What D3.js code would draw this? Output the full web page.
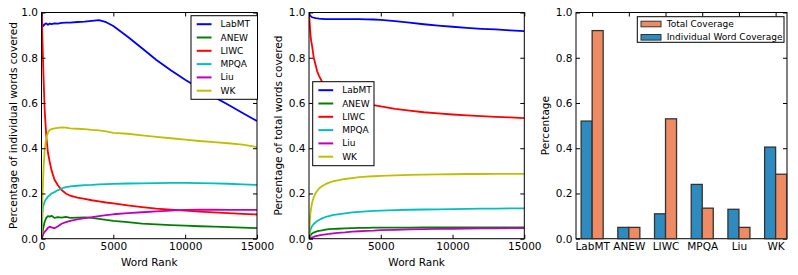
<!DOCTYPE html>
<html>
<head>
<meta charset="utf-8">
<script src="https://cdn.jsdelivr.net/npm/d3@7"></script>
<style>
  body { margin: 0; background: #fff; }
  svg text { font-family: 'DejaVu Sans', sans-serif; fill: #000; }
</style>
</head>
<body>
<svg id="chart" width="798" height="275"></svg>
<script>
/* global d3 */

// word rank sample points (shared by both line panels)
const ranks = [0, 35, 70, 105, 150, 220, 330, 450, 570, 700, 900, 1150, 1400, 1700, 2000, 2500,
  3000, 3500, 4000, 4500, 5000, 6000, 7000, 8000, 9000, 10000, 11000, 12000, 13000, 14000, 15000]

// percentage of individual words covered
const indivLabMT = [1.0, 0.96, 0.945, 0.94, 0.942, 0.948, 0.952, 0.946, 0.951, 0.949, 0.952, 0.951, 0.954, 0.955, 0.955, 0.958,
  0.96, 0.963, 0.966, 0.957, 0.94, 0.893, 0.842, 0.79, 0.745, 0.703, 0.664, 0.627, 0.592, 0.556, 0.52]
const indivANEW = [0, 0.01, 0.025, 0.04, 0.055, 0.075, 0.092, 0.1, 0.098, 0.101, 0.092, 0.095, 0.093, 0.096, 0.092, 0.093,
  0.094, 0.092, 0.088, 0.083, 0.079, 0.073, 0.067, 0.063, 0.06, 0.058, 0.055, 0.053, 0.051, 0.049, 0.047]
const indivLIWC = [1.0, 0.95, 0.87, 0.79, 0.7, 0.57, 0.455, 0.38, 0.34, 0.302, 0.262, 0.235, 0.215, 0.2, 0.19, 0.182,
  0.176, 0.17, 0.165, 0.16, 0.156, 0.147, 0.14, 0.133, 0.128, 0.124, 0.12, 0.116, 0.113, 0.11, 0.107]
const indivMPQA = [0, 0.068, 0.11, 0.14, 0.15, 0.164, 0.176, 0.186, 0.192, 0.2, 0.206, 0.215, 0.222, 0.228, 0.231, 0.234,
  0.237, 0.238, 0.24, 0.241, 0.242, 0.244, 0.245, 0.246, 0.247, 0.247, 0.246, 0.245, 0.243, 0.24, 0.238]
const indivLiu = [0, 0.003, 0.01, 0.017, 0.024, 0.03, 0.038, 0.048, 0.053, 0.05, 0.046, 0.055, 0.066, 0.073, 0.079, 0.085,
  0.091, 0.095, 0.1, 0.104, 0.108, 0.113, 0.117, 0.121, 0.124, 0.127, 0.128, 0.128, 0.127, 0.127, 0.127]
const indivWK = [0, 0.1, 0.186, 0.25, 0.319, 0.39, 0.445, 0.47, 0.481, 0.484, 0.488, 0.49, 0.492, 0.491, 0.488, 0.486,
  0.484, 0.481, 0.479, 0.474, 0.468, 0.464, 0.457, 0.45, 0.444, 0.438, 0.432, 0.427, 0.422, 0.416, 0.405]

// percentage of total words covered
const totalLabMT = [1.0, 0.993, 0.988, 0.985, 0.982, 0.979, 0.977, 0.975, 0.974, 0.973, 0.972, 0.971, 0.971, 0.971, 0.971, 0.971,
  0.971, 0.971, 0.97, 0.969, 0.967, 0.962, 0.955, 0.948, 0.942, 0.937, 0.932, 0.928, 0.925, 0.921, 0.918]
const totalANEW = [0, 0.006, 0.011, 0.015, 0.019, 0.023, 0.027, 0.03, 0.033, 0.035, 0.037, 0.04, 0.042, 0.043, 0.044, 0.046,
  0.047, 0.048, 0.048, 0.049, 0.049, 0.049, 0.049, 0.05, 0.05, 0.05, 0.05, 0.05, 0.05, 0.05, 0.05]
const totalLIWC = [1.0, 0.965, 0.93, 0.9, 0.875, 0.85, 0.8, 0.77, 0.74, 0.72, 0.695, 0.673, 0.66, 0.648, 0.638, 0.625,
  0.615, 0.606, 0.598, 0.591, 0.585, 0.574, 0.566, 0.559, 0.554, 0.549, 0.545, 0.542, 0.539, 0.536, 0.533]
const totalMPQA = [0, 0.015, 0.03, 0.04, 0.048, 0.056, 0.065, 0.072, 0.078, 0.083, 0.09, 0.096, 0.1, 0.105, 0.108, 0.112,
  0.116, 0.119, 0.121, 0.123, 0.124, 0.126, 0.128, 0.129, 0.13, 0.131, 0.132, 0.133, 0.133, 0.134, 0.134]
const totalLiu = [0, 0.001, 0.002, 0.003, 0.004, 0.006, 0.008, 0.011, 0.013, 0.015, 0.017, 0.019, 0.021, 0.024, 0.026, 0.028,
  0.031, 0.033, 0.035, 0.036, 0.038, 0.039, 0.041, 0.042, 0.043, 0.044, 0.045, 0.046, 0.046, 0.047, 0.047]
const totalWK = [0, 0.05, 0.09, 0.115, 0.135, 0.16, 0.183, 0.2, 0.212, 0.222, 0.232, 0.241, 0.248, 0.254, 0.258, 0.264,
  0.268, 0.272, 0.274, 0.276, 0.278, 0.28, 0.282, 0.283, 0.284, 0.285, 0.286, 0.286, 0.287, 0.287, 0.287]

// bar panel
const barCategories = ['LabMT', 'ANEW', 'LIWC', 'MPQA', 'Liu', 'WK']
const individualCoverage = [0.52, 0.05, 0.11, 0.24, 0.13, 0.405]
const totalCoverage = [0.92, 0.05, 0.53, 0.135, 0.05, 0.285]

const seriesNames = ['LabMT', 'ANEW', 'LIWC', 'MPQA', 'Liu', 'WK']
const yTicks = [0, 0.2, 0.4, 0.6, 0.8, 1.0]
const rankTicks = [0, 5000, 10000, 15000]

const lineColors = ['#0000ff', '#008000', '#ff0000', '#00bfbf', '#bf00bf', '#bfbf00']
const blue = '#2e8bc0'
const salmon = '#ef8b62'
const plotTop = 12.5
const plotBottom = 238.7
const fontSize = 10.5

const svg = d3.select('#chart')

function frameAxes (g, x, y, xTicks, xFormat) {
  g.append('g')
    .attr('transform', `translate(0,${plotBottom})`)
    .call(d3.axisBottom(x).tickValues(xTicks).tickFormat(xFormat).tickSizeInner(-4).tickSizeOuter(0).tickPadding(4))
  g.append('g')
    .attr('transform', `translate(0,${plotTop})`)
    .call(d3.axisTop(x).tickValues(xTicks).tickFormat('').tickSizeInner(-4).tickSizeOuter(0))
  g.append('g')
    .attr('transform', `translate(${x.range()[0]},0)`)
    .call(d3.axisLeft(y).tickValues(yTicks).tickFormat(d3.format('.1f')).tickSizeInner(-4).tickSizeOuter(0).tickPadding(3.5))
  g.append('g')
    .attr('transform', `translate(${x.range()[1]},0)`)
    .call(d3.axisRight(y).tickValues(yTicks).tickFormat('').tickSizeInner(-4).tickSizeOuter(0))
  g.selectAll('.domain').remove()
  g.selectAll('.tick line').attr('stroke', '#000')
  g.selectAll('.tick text').attr('font-size', fontSize).attr('font-family', 'DejaVu Sans')

  g.append('rect')
    .attr('x', x.range()[0])
    .attr('y', plotTop)
    .attr('width', x.range()[1] - x.range()[0])
    .attr('height', plotBottom - plotTop)
    .attr('fill', 'none')
    .attr('stroke', '#000')
    .attr('stroke-width', 1)
}

function yLabel (g, cx, text) {
  g.append('text')
    .attr('transform', `translate(${cx},${(plotTop + plotBottom) / 2}) rotate(-90)`)
    .attr('text-anchor', 'middle')
    .attr('dominant-baseline', 'central')
    .attr('font-size', fontSize)
    .text(text)
}

function linePanel (x0, x1, series, label, labelX, legend) {
  const g = svg.append('g')
  const x = d3.scaleLinear().domain([0, 15000]).range([x0, x1])
  const y = d3.scaleLinear().domain([0, 1]).range([plotBottom, plotTop])

  const clipId = 'clip' + Math.round(x0)
  g.append('clipPath').attr('id', clipId)
    .append('rect').attr('x', x0).attr('y', plotTop).attr('width', x1 - x0).attr('height', plotBottom - plotTop)

  const line = d3.line()
    .x((d, i) => x(ranks[i]))
    .y(d => y(d))

  g.append('g').attr('clip-path', `url(#${clipId})`)
    .selectAll('path')
    .data(series)
    .enter().append('path')
    .attr('d', d => line(d))
    .attr('fill', 'none')
    .attr('stroke', (d, i) => lineColors[i])
    .attr('stroke-width', 1.8)
    .attr('stroke-linejoin', 'round')

  frameAxes(g, x, y, rankTicks, d3.format('d'))

  g.append('text')
    .attr('x', (x0 + x1) / 2)
    .attr('y', 261.7)
    .attr('text-anchor', 'middle')
    .attr('dominant-baseline', 'central')
    .attr('font-size', fontSize)
    .text('Word Rank')
  yLabel(g, labelX, label)

  // legend box
  const lg = g.append('g')
  lg.append('rect')
    .attr('x', legend.x)
    .attr('y', legend.y)
    .attr('width', legend.w)
    .attr('height', legend.h)
    .attr('fill', '#fff')
    .attr('stroke', '#000')
    .attr('stroke-width', 1)
  seriesNames.forEach((name, i) => {
    const cy = legend.y + 8.5 + i * 13.3
    lg.append('line')
      .attr('x1', legend.x + 5.7)
      .attr('x2', legend.x + 20.5)
      .attr('y1', cy)
      .attr('y2', cy)
      .attr('stroke', lineColors[i])
      .attr('stroke-width', 2)
    lg.append('text')
      .attr('x', legend.x + 29.5)
      .attr('y', cy)
      .attr('dominant-baseline', 'central')
      .attr('font-size', 9)
      .text(name)
  })
}

linePanel(41.5, 257, [indivLabMT, indivANEW, indivLIWC, indivMPQA, indivLiu, indivWK],
  'Percentage of individual words covered', 12.7, { x: 191, y: 15.7, w: 66.5, h: 83.6 })

linePanel(309, 524.3, [totalLabMT, totalANEW, totalLIWC, totalMPQA, totalLiu, totalWK],
  'Percentage of total words covered', 278.3, { x: 312.7, y: 81.7, w: 61.3, h: 84 })

// bar panel
const bg = svg.append('g')
const bx = d3.scaleLinear().domain([-0.44, 5.31]).range([576, 787])
const by = d3.scaleLinear().domain([0, 1]).range([plotBottom, plotTop])
const barW = 0.3

frameAxes(bg, bx, by, d3.range(barCategories.length), i => barCategories[i])

bg.selectAll('rect.indiv')
  .data(individualCoverage)
  .enter().append('rect')
  .attr('class', 'indiv')
  .attr('x', (d, i) => bx(i - barW))
  .attr('y', d => by(d))
  .attr('width', bx(barW) - bx(0))
  .attr('height', d => plotBottom - by(d))
  .attr('fill', blue)
  .attr('stroke', '#333')
  .attr('stroke-width', 1.3)

bg.selectAll('rect.total')
  .data(totalCoverage)
  .enter().append('rect')
  .attr('class', 'total')
  .attr('x', (d, i) => bx(i))
  .attr('y', d => by(d))
  .attr('width', bx(barW) - bx(0))
  .attr('height', d => plotBottom - by(d))
  .attr('fill', salmon)
  .attr('stroke', '#333')
  .attr('stroke-width', 1.3)

yLabel(bg, 545, 'Percentage')

const blg = bg.append('g')
blg.append('rect')
  .attr('x', 637.3)
  .attr('y', 16.7)
  .attr('width', 146.7)
  .attr('height', 25.6)
  .attr('fill', '#fff')
  .attr('stroke', '#000')
  .attr('stroke-width', 1)
const barLegend = [['Total Coverage', salmon], ['Individual Word Coverage', blue]]
barLegend.forEach(([name, color], i) => {
  const cy = 24 + i * 13.3
  blg.append('rect')
    .attr('x', 641)
    .attr('y', cy - 2.8)
    .attr('width', 20)
    .attr('height', 5.6)
    .attr('fill', color)
    .attr('stroke', '#333')
    .attr('stroke-width', 1)
  blg.append('text')
    .attr('x', 666.7)
    .attr('y', cy)
    .attr('dominant-baseline', 'central')
    .attr('font-size', 9)
    .text(name)
})
</script>
</body>
</html>
